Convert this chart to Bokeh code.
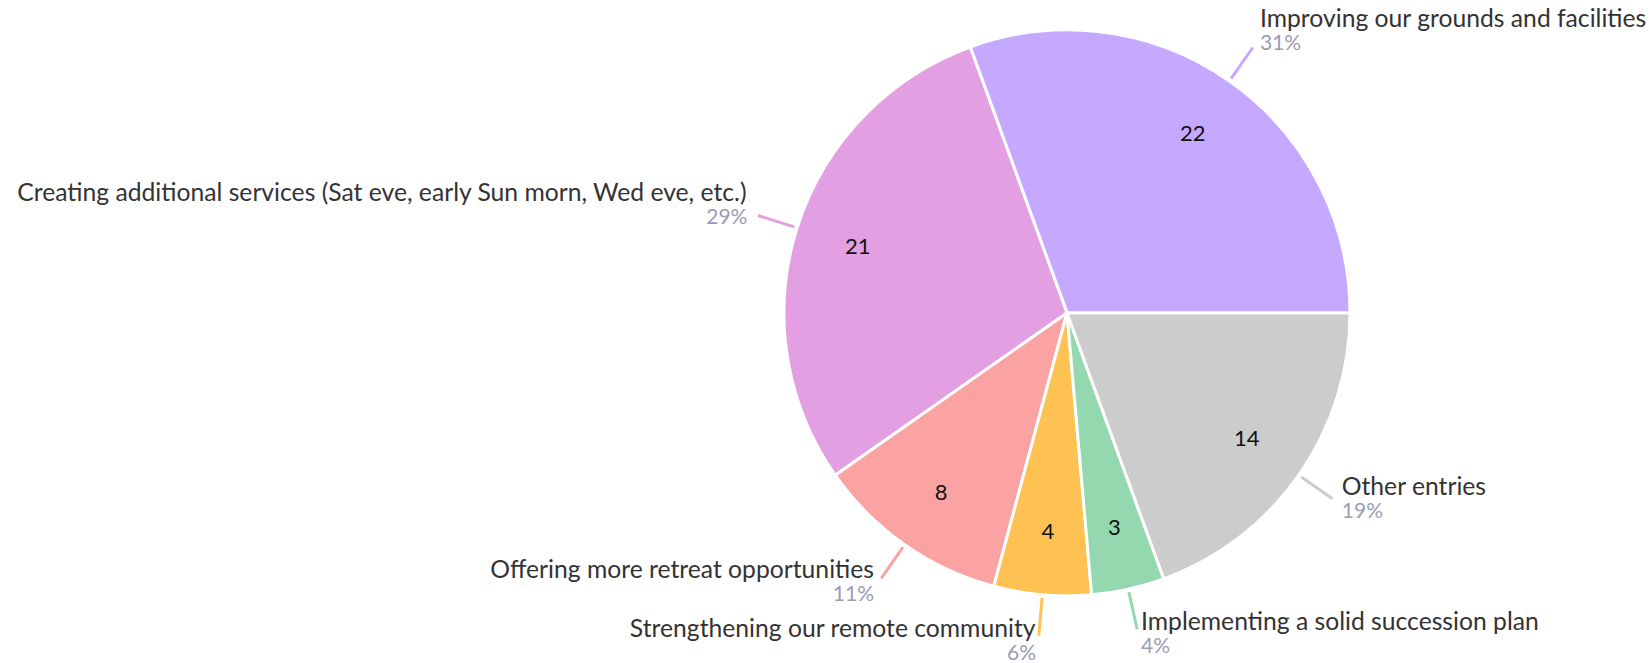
import numpy as np
from bokeh.plotting import figure
from bokeh.models import Range1d, ColumnDataSource
from bokeh.core.properties import value
from bokeh.embed import file_html
from bokeh.resources import INLINE

categories = [
    "Improving our grounds and facilities",
    "Creating additional services (Sat eve, early Sun morn, Wed eve, etc.)",
    "Offering more retreat opportunities",
    "Strengthening our remote community",
    "Implementing a solid succession plan",
    "Other entries",
]
counts = [22, 21, 8, 4, 3, 14]
colors = ["#C5A8FF", "#E29FE2", "#FBA3A3", "#FEC253", "#93D8AE", "#CCCCCC"]

W, H = 1649, 663
FONT = "Lato"

p = figure(width=W, height=H, output_backend="svg", toolbar_location=None,
           x_range=Range1d(0, W), y_range=Range1d(0, H), min_border=0)
p.axis.visible = False
p.grid.visible = False
p.outline_line_color = None

cx, cy, r = 1066.5, 350.6, 283.0

vals = np.array(counts, dtype=float)
total = vals.sum()
frac = vals / total
ends = np.cumsum(frac) * 2 * np.pi
starts = ends - frac * 2 * np.pi
mids = (starts + ends) / 2
pcts = [f"{int(round(f * 100))}%" for f in frac]

src = ColumnDataSource(dict(start=starts, end=ends, color=colors))
p.wedge(x=cx, y=cy, radius=r, start_angle="start", end_angle="end",
        fill_color="color", line_color="white", line_width=3, source=src)

# inside value labels
ir = 0.775 * r
p.text(x=cx + ir * np.cos(mids), y=cy + ir * np.sin(mids), text=[str(c) for c in counts],
       text_align="center", text_baseline="middle", text_color="#111111",
       text_font=value(FONT), text_font_size="22px")

# leader lines
r0, r1 = r + 3, r + 41
xs = [[cx + r0 * np.cos(a), cx + r1 * np.cos(a)] for a in mids]
ys = [[cy + r0 * np.sin(a), cy + r1 * np.sin(a)] for a in mids]
p.multi_line(xs=xs, ys=ys, line_color=colors, line_width=3)

# outer labels
for a, name, pct in zip(mids, categories, pcts):
    ex, ey = cx + r1 * np.cos(a), cy + r1 * np.sin(a)
    right = np.cos(a) >= 0
    gap = 2 + 9 * abs(np.cos(a))
    tx = ex + gap if right else ex - gap
    ny = ey + 20 + 12 * np.sin(a)
    align = "left" if right else "right"
    p.text(x=[tx], y=[ny], text=[name], text_align=align, text_baseline="middle",
           text_color="#333333", text_font=value(FONT), text_font_size="24.7px")
    p.text(x=[tx], y=[ny - 24], text=[pct], text_align=align, text_baseline="middle",
           text_color="#9B9BB4", text_font=value(FONT), text_font_size="21px")

open("out.html", "w").write(file_html(p, INLINE))
